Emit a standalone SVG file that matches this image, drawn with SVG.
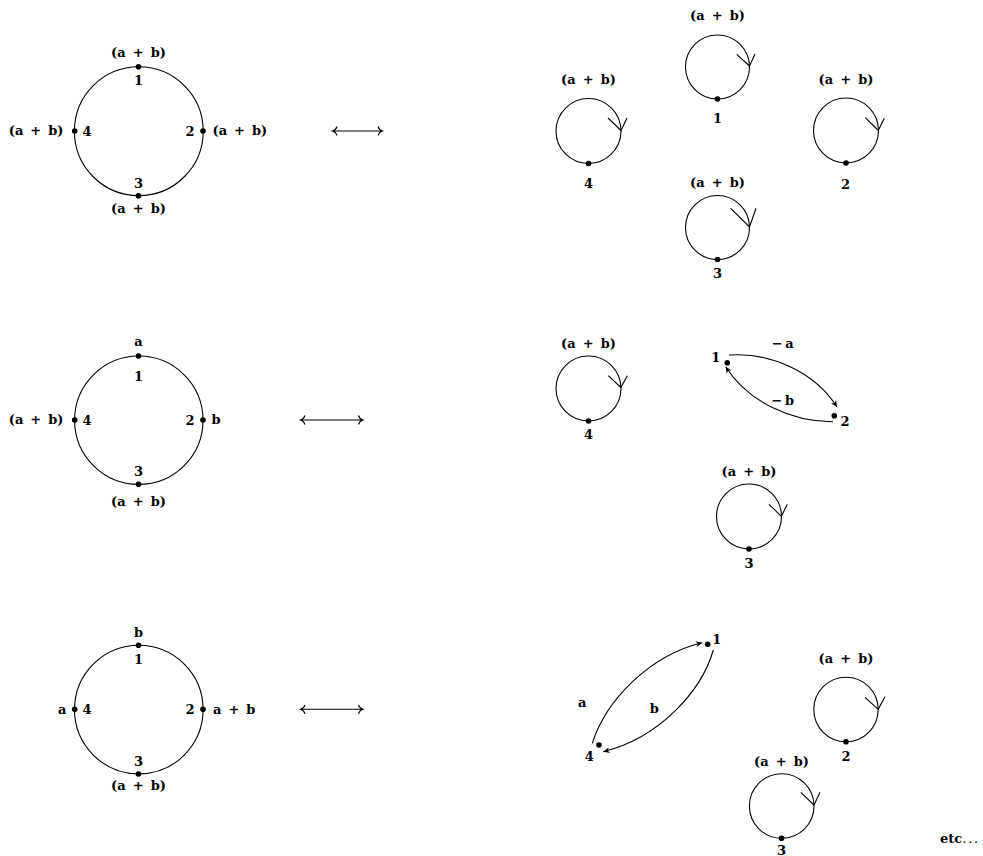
<svg xmlns="http://www.w3.org/2000/svg" width="983" height="856" viewBox="0 0 983 856">
<style>
text { font-family: "DejaVu Serif", "Liberation Serif", serif; font-weight: bold; font-size: 13px; fill: #000; }
.ws { word-spacing: 2.5px; }
.c { text-anchor: middle; }
.e { text-anchor: end; }
.ln { fill: none; stroke: #000; stroke-width: 1.1; }
.dot { fill: #000; }
.reg { font-weight: normal; letter-spacing: 1.8px; }
</style>
<defs>
<marker id="ah" viewBox="-7 -4 8 8" refX="0" refY="0" markerWidth="8" markerHeight="8" markerUnits="userSpaceOnUse" orient="auto">
<path d="M0,0 L-6.5,-3 L-4.5,0 L-6.5,3 Z" fill="#000"/>
</marker>
</defs>
<rect width="983" height="856" fill="#fff"/>

<!-- connectors -->
<g id="connectors">
<circle class="ln" cx="138.8" cy="131.2" r="64.4"/>
<circle class="ln" cx="138.8" cy="420.2" r="64.2"/>
<circle class="ln" cx="138.8" cy="709.6" r="64.3"/>
<path class="ln" d="M337,126.5 Q336,130 332.5,131 Q336,132 337,135.5 M332.5,131 L382.5,131 M378,126.5 Q379,130 382.5,131 Q379,132 378,135.5"/>
<path class="ln" d="M305,415.5 Q304,419 300.5,420 Q304,421 305,424.5 M300.5,420 L363,420 M358.5,415.5 Q359.5,419 363,420 Q359.5,421 358.5,424.5"/>
<path class="ln" d="M305,704.8 Q304,708.3 300.5,709.3 Q304,710.3 305,713.8 M300.5,709.3 L363,709.3 M358.5,704.8 Q359.5,708.3 363,709.3 Q359.5,710.3 358.5,713.8"/>
<!-- top right loops -->
<circle class="ln" cx="717.5" cy="67" r="32"/>
<path class="ln" d="M736.7,54.3 L749.5,66 L755,54"/>
<circle class="ln" cx="588.5" cy="131" r="32.5"/>
<path class="ln" d="M608,118 L621,130.5 L627,118"/>
<circle class="ln" cx="846" cy="130.5" r="32.5"/>
<path class="ln" d="M865.3,117.7 L878.3,130.5 L884.3,118.3"/>
<circle class="ln" cx="717.5" cy="227.5" r="32"/>
<path class="ln" d="M730.7,208.3 L749.5,227 L756,208.3"/>
<!-- middle right -->
<circle class="ln" cx="588.5" cy="388.5" r="32.5"/>
<path class="ln" d="M608.3,375.7 L620.9,387.5 L627.3,375.7"/>
<path class="ln" d="M729,355 C770,352 815,372 837,407" marker-end="url(#ah)"/>
<path class="ln" d="M833,421.7 C792,422 748,402 725.7,366.7" marker-end="url(#ah)"/>
<circle class="ln" cx="749" cy="516.5" r="32.5"/>
<path class="ln" d="M769,504.3 L781.4,516.3 L787.3,504.3"/>
<!-- bottom right -->
<path class="ln" d="M592.3,743.3 C606,700 650,655 702.3,642.7" marker-end="url(#ah)"/>
<path class="ln" d="M713.3,650 C702,690 660,738 603.3,751.7" marker-end="url(#ah)"/>
<circle class="ln" cx="846" cy="709.5" r="32.2"/>
<path class="ln" d="M865,697.3 L878.2,709.3 L885,696.7"/>
<circle class="ln" cx="781.7" cy="806" r="32.3"/>
<path class="ln" d="M800.7,792.3 L814,805 L820,792.3"/>
</g>

<!-- top-left panel -->
<g id="tl-n1"><circle class="dot" cx="138.5" cy="66.7" r="2.8"/><text class="c ws" x="138.5" y="57">(a + b)</text><text class="c" x="138.5" y="84.5">1</text></g>
<g id="tl-n2"><circle class="dot" cx="203" cy="131" r="2.8"/><text class="c" x="190" y="135.5">2</text><text class="ws" x="212.5" y="135">(a + b)</text></g>
<g id="tl-n3"><circle class="dot" cx="138.5" cy="195.7" r="2.8"/><text class="c" x="138.5" y="187.5">3</text><text class="c ws" x="138.5" y="213">(a + b)</text></g>
<g id="tl-n4"><circle class="dot" cx="74.7" cy="131" r="2.8"/><text class="c" x="87" y="135.5">4</text><text class="e ws" x="63.5" y="135">(a + b)</text></g>

<!-- top-right panel -->
<g id="tr-n1"><circle class="dot" cx="717.5" cy="99" r="2.8"/><text class="c ws" x="717.5" y="20">(a + b)</text><text class="c" x="717.5" y="123">1</text></g>
<g id="tr-n4"><circle class="dot" cx="588.5" cy="163.5" r="2.8"/><text class="c ws" x="588.5" y="84">(a + b)</text><text class="c" x="588.5" y="187.5">4</text></g>
<g id="tr-n2"><circle class="dot" cx="846" cy="163" r="2.8"/><text class="c ws" x="846" y="84">(a + b)</text><text class="c" x="845.5" y="188.5">2</text></g>
<g id="tr-n3"><circle class="dot" cx="717.5" cy="259.5" r="2.8"/><text class="c ws" x="717.5" y="187">(a + b)</text><text class="c" x="717.5" y="277.5">3</text></g>

<!-- middle-left panel -->
<g id="ml-n1"><circle class="dot" cx="138.5" cy="356" r="2.8"/><text class="c" x="138.5" y="345.5">a</text><text class="c" x="138.5" y="380.5">1</text></g>
<g id="ml-n2"><circle class="dot" cx="203" cy="420" r="2.8"/><text class="c" x="190" y="424.5">2</text><text x="211.5" y="424">b</text></g>
<g id="ml-n3"><circle class="dot" cx="138.5" cy="484.3" r="2.8"/><text class="c" x="138.5" y="476">3</text><text class="c ws" x="138.5" y="505.5">(a + b)</text></g>
<g id="ml-n4"><circle class="dot" cx="74.7" cy="420" r="2.8"/><text class="c" x="87" y="424.5">4</text><text class="e ws" x="63.5" y="424">(a + b)</text></g>

<!-- middle-right panel -->
<g id="mr-n4"><circle class="dot" cx="588.5" cy="421" r="2.8"/><text class="c ws" x="588.5" y="348">(a + b)</text><text class="c" x="588.5" y="438.5">4</text></g>
<g id="mr-n1"><circle class="dot" cx="727.3" cy="362.7" r="2.8"/><text class="c" x="715.7" y="361.5">1</text></g>
<g id="mr-n2"><circle class="dot" cx="834.3" cy="415.7" r="2.8"/><text class="c" x="845" y="426">2</text></g>
<g id="mr-labels"><text class="c" x="782.7" y="348">−&#8201;a</text><text class="c" x="782.7" y="405">−&#8201;b</text></g>
<g id="mr-n3"><circle class="dot" cx="749" cy="549" r="2.8"/><text class="c ws" x="749" y="475.5">(a + b)</text><text class="c" x="749" y="567.5">3</text></g>

<!-- bottom-left panel -->
<g id="bl-n1"><circle class="dot" cx="138.5" cy="645.3" r="2.8"/><text class="c" x="138.5" y="637">b</text><text class="c" x="138.5" y="663.5">1</text></g>
<g id="bl-n2"><circle class="dot" cx="203" cy="709.3" r="2.8"/><text class="c" x="190" y="713.8">2</text><text class="ws" x="213" y="713.5">a + b</text></g>
<g id="bl-n3"><circle class="dot" cx="138.5" cy="774" r="2.8"/><text class="c" x="138.5" y="766">3</text><text class="c ws" x="138.5" y="790">(a + b)</text></g>
<g id="bl-n4"><circle class="dot" cx="74.7" cy="709.3" r="2.8"/><text class="c" x="87" y="713.8">4</text><text class="e" x="66.5" y="713.5">a</text></g>

<!-- bottom-right panel -->
<g id="br-n1"><circle class="dot" cx="707.7" cy="644.3" r="2.8"/><text class="c" x="716.7" y="643.5">1</text></g>
<g id="br-n4"><circle class="dot" cx="599" cy="745" r="2.8"/><text class="c" x="589.3" y="760.5">4</text></g>
<g id="br-labels"><text class="c" x="582.3" y="706.5">a</text><text class="c" x="654.3" y="713">b</text></g>
<g id="br-n2"><circle class="dot" cx="846" cy="741.7" r="2.8"/><text class="c ws" x="846" y="663">(a + b)</text><text class="c" x="846" y="760.5">2</text></g>
<g id="br-n3"><circle class="dot" cx="781.5" cy="838.3" r="2.8"/><text class="c ws" x="781.5" y="765.5">(a + b)</text><text class="c" x="781.5" y="854.5" font-size="12.5">3</text></g>

<g id="etc"><text x="940" y="843">etc<tspan class="reg">...</tspan></text></g>
</svg>
